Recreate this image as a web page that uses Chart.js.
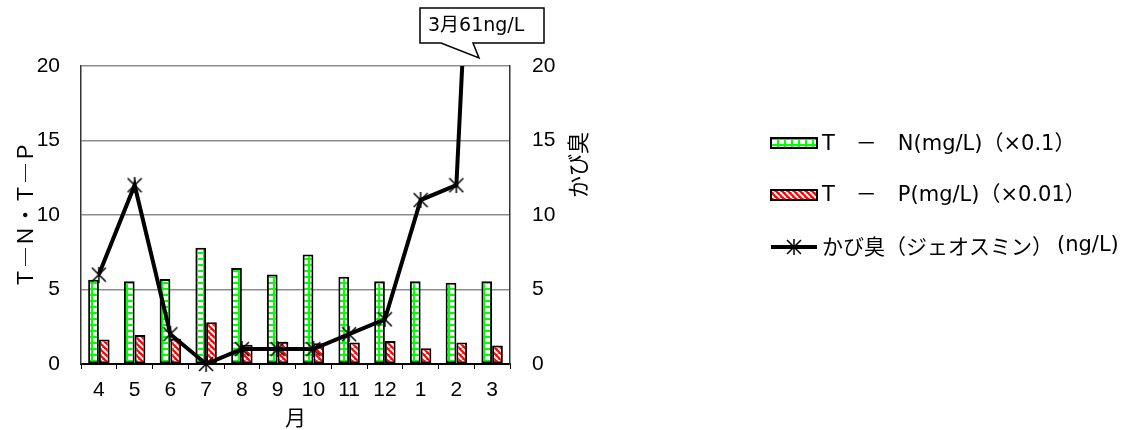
<!DOCTYPE html>
<html>
<head>
<meta charset="utf-8">
<script src="https://cdn.jsdelivr.net/npm/chart.js@4"></script>
<style>
  body { margin: 0; background: #fff; }
  #c { display: block; }
</style>
</head>
<body>
<canvas id="c" width="1129" height="430"></canvas>
<script>
// データ
const months = ['4', '5', '6', '7', '8', '9', '10', '11', '12', '1', '2', '3'];
const tnValues = [5.65, 5.55, 5.7, 7.8, 6.45, 6.0, 7.35, 5.85, 5.55, 5.55, 5.45, 5.55];   // T-N ×0.1
const tpValues = [1.65, 1.95, 1.7, 2.8, 1.3, 1.5, 1.4, 1.45, 1.55, 1.05, 1.45, 1.25];    // T-P ×0.01
const odorValues = [6, 12, 2, 0, 1, 1, 1, 2, 3, 11, 12, 61];                              // かび臭 ng/L
const yTicks = [0, 5, 10, 15, 20];

const seriesLabels = ['T　－　N(mg/L)（×0.1）', 'T　－　P(mg/L)（×0.01）', 'かび臭（ジェオスミン）(ng/L)'];
const FONT = "'Liberation Sans', 'Noto Sans CJK JP', sans-serif";
const JFONT = "'Noto Sans CJK JP', 'Liberation Sans', sans-serif";
const LFONT = "'DejaVu Sans', 'Noto Sans CJK JP', sans-serif";

// パターン（緑の格子・赤の斜線）
function makeGreenPattern() {
    const t = document.createElement('canvas');
    t.width = 7; t.height = 6;
    const g = t.getContext('2d');
    g.fillStyle = '#fff'; g.fillRect(0, 0, 7, 6);
    g.fillStyle = '#00ff00';
    g.fillRect(0, 0, 7, 2);
    g.fillRect(0, 0, 2, 6);
    return g.createPattern(t, 'repeat');
}
function makeRedPattern() {
    const t = document.createElement('canvas');
    t.width = 6; t.height = 6;
    const g = t.getContext('2d');
    g.fillStyle = '#ff0000'; g.fillRect(0, 0, 6, 6);
    g.strokeStyle = '#fff'; g.lineWidth = 2;
    [-6, 0, 6].forEach(k => {
        g.beginPath(); g.moveTo(k, 0); g.lineTo(k + 6, 6); g.stroke();
    });
    return g.createPattern(t, 'repeat');
}
// マーカー（*）
function makeStar(size) {
    const t = document.createElement('canvas');
    t.width = size; t.height = size;
    const g = t.getContext('2d');
    g.strokeStyle = '#000'; g.lineWidth = 1.5;
    const m = 1, s = size - 1, c = size / 2;
    g.beginPath();
    g.moveTo(m, m); g.lineTo(s, s);
    g.moveTo(s, m); g.lineTo(m, s);
    g.moveTo(c, m - 1); g.lineTo(c, s + 1);
    g.stroke();
    return t;
}

const greenPat = makeGreenPattern();
const redPat = makeRedPattern();
const star = makeStar(16);

// 凡例・吹き出し・右軸タイトル
const extras = {
    id: 'extras',
    afterDraw(chart) {
        const ctx = chart.ctx;
        ctx.save();
        // 右軸タイトル
        ctx.translate(578, 165);
        ctx.rotate(-Math.PI / 2);
        ctx.fillStyle = '#000';
        ctx.font = '22px ' + JFONT;
        ctx.textAlign = 'center'; ctx.textBaseline = 'middle';
        ctx.fillText('かび臭', 0, 0);
        ctx.restore();

        // 吹き出し
        ctx.save();
        ctx.beginPath();
        ctx.moveTo(420, 8); ctx.lineTo(544, 8); ctx.lineTo(544, 43);
        ctx.lineTo(473, 43); ctx.lineTo(479, 58); ctx.lineTo(441, 43);
        ctx.lineTo(420, 43); ctx.closePath();
        ctx.fillStyle = '#fff'; ctx.fill();
        ctx.strokeStyle = '#000'; ctx.lineWidth = 1.5; ctx.stroke();
        ctx.fillStyle = '#000';
        ctx.font = '19px ' + LFONT;
        ctx.textAlign = 'left'; ctx.textBaseline = 'middle';
        ctx.fillText('3月61ng/L', 428, 26);
        ctx.restore();

        // 凡例
        ctx.save();
        ctx.textBaseline = 'middle'; ctx.textAlign = 'left';
        ctx.fillStyle = greenPat; ctx.fillRect(771, 138, 46, 10);
        ctx.strokeStyle = '#000'; ctx.lineWidth = 2; ctx.strokeRect(771, 138, 46, 10);
        ctx.fillStyle = redPat; ctx.fillRect(771, 190, 46, 10);
        ctx.strokeRect(771, 190, 46, 10);
        ctx.lineWidth = 4;
        ctx.beginPath(); ctx.moveTo(771, 247); ctx.lineTo(817, 247); ctx.stroke();
        ctx.drawImage(star, 794 - 8, 247 - 8);
        ctx.fillStyle = '#000';
        ctx.font = '21px ' + LFONT;
        ctx.fillText(seriesLabels[0], 822, 145);
        ctx.fillText(seriesLabels[1], 822, 196);
        ctx.font = '21px ' + JFONT;
        const jp = 'かび臭（ジェオスミン）';
        ctx.fillText(jp, 822, 246);
        const w = ctx.measureText(jp).width;
        ctx.font = '21px ' + LFONT;
        ctx.fillText('(ng/L)', 822 + w + 4, 246);
        ctx.restore();
    }
};

new Chart(document.getElementById('c'), {
    type: 'bar',
    data: {
        labels: months,
        datasets: [
            {
                type: 'line', label: seriesLabels[2], data: odorValues, yAxisID: 'y2', order: 0,
                borderColor: '#000', borderWidth: 4, tension: 0,
                pointStyle: star, pointRadius: 8,
                clip: { left: false, right: false, top: 0, bottom: false }
            },
            {
                label: seriesLabels[0], data: tnValues, yAxisID: 'y', order: 1,
                backgroundColor: greenPat, borderColor: '#000', borderWidth: 2, borderSkipped: false,
                categoryPercentage: 0.6, barPercentage: 1.0
            },
            {
                label: seriesLabels[1], data: tpValues, yAxisID: 'y', order: 1,
                backgroundColor: redPat, borderColor: '#000', borderWidth: 2, borderSkipped: false,
                categoryPercentage: 0.6, barPercentage: 1.0
            }
        ]
    },
    options: {
        responsive: false,
        animation: false,
        layout: { padding: { left: 0, right: 549, top: 66, bottom: 0 } },
        plugins: { legend: { display: false }, tooltip: { enabled: false } },
        scales: {
            x: {
                grid: { display: true, drawOnChartArea: false, drawTicks: true, tickLength: 5, color: '#000', offset: true },
                border: { display: true, color: '#000', width: 2 },
                ticks: { color: '#000', font: { size: 21, family: FONT }, padding: 9, maxRotation: 0 },
                title: { display: true, text: '月', color: '#000', font: { size: 21, family: JFONT }, padding: { top: 0, bottom: 0 } },
                afterFit: s => { s.height = 66; }
            },
            y: {
                position: 'left', min: 0, max: 20,
                afterBuildTicks: s => { s.ticks = yTicks.map(v => ({ value: v })); },
                grid: { color: '#8c8c8c', lineWidth: 1.5, drawTicks: false },
                border: { display: true, color: '#333', width: 1.5 },
                ticks: { color: '#000', font: { size: 21, family: FONT }, padding: 21 },
                title: { display: true, text: 'Ｔ―Ｎ・Ｔ―Ｐ', color: '#000', font: { size: 21, family: JFONT }, padding: { top: 12, bottom: 0 } },
                afterFit: s => { s.width = 81; }
            },
            y2: {
                position: 'right', min: 0, max: 20,
                afterBuildTicks: s => { s.ticks = yTicks.map(v => ({ value: v })); },
                grid: { drawOnChartArea: false, drawTicks: false },
                border: { display: true, color: '#333', width: 1.5 },
                ticks: { color: '#000', font: { size: 21, family: FONT }, padding: 22 },
                afterFit: s => { s.width = 70; }
            }
        }
    },
    plugins: [extras]
});
</script>
</body>
</html>
